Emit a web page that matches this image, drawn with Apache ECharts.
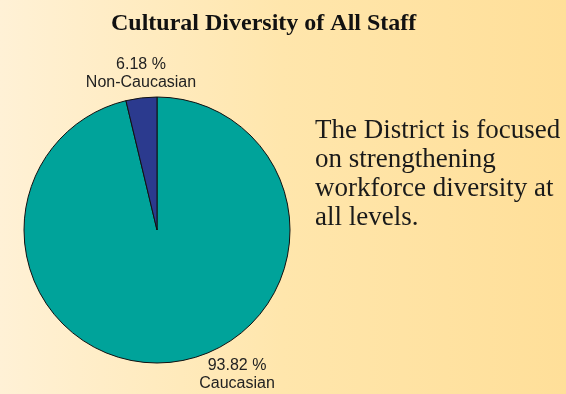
<!DOCTYPE html>
<html><head><meta charset="utf-8">
<script src="https://cdn.jsdelivr.net/npm/echarts@6/dist/echarts.min.js"></script>
<style>html,body{margin:0;padding:0;}#c{width:566px;height:394px;}</style>
</head><body><div id="c"></div>
<script>
const categories = ['Caucasian', 'Non-Caucasian'];
// percentages as printed on the reference labels
const printedPercents = [93.82, 6.18];
// slice shares as drawn in the reference picture (the drawn navy wedge spans ~13.5 degrees)
const drawnShares = [96.25, 3.75];
const sliceColors = ['#00A39A', '#2B3A8E'];
const titleText = 'Cultural Diversity of All Staff';
const noteLines = ['The District is focused', 'on strengthening', 'workforce diversity at', 'all levels.'];

const chart = echarts.init(document.getElementById('c'));
chart.setOption({
  backgroundColor: new echarts.graphic.LinearGradient(0, 0, 1, 0, [
    {offset: 0, color: '#FFF1D6'},
    {offset: 0.5, color: '#FFE6AC'},
    {offset: 1, color: '#FFDF99'}
  ]),
  title: {
    text: titleText, left: 106, top: 7,
    textStyle: {fontFamily: 'Liberation Serif', fontWeight: 'bold', fontSize: 24, color: '#111'}
  },
  graphic: [{
    type: 'text', left: 315, top: 116,
    style: {text: noteLines.join('\n'), font: '27px "Liberation Serif"', lineHeight: 29, fill: '#1a1a1a'}
  }],
  series: [{
    type: 'pie',
    center: [157, 230],
    radius: 133,
    startAngle: 90,
    clockwise: true,
    animation: false,
    silent: true,
    data: categories.map((n, i) => ({name: n, value: drawnShares[i], itemStyle: {color: sliceColors[i]}})),
    itemStyle: {borderColor: '#111', borderWidth: 1},
    label: {
      show: true, position: 'outside', overflow: 'none',
      formatter: p => printedPercents[p.dataIndex].toFixed(2) + ' %\n' + p.name,
      fontFamily: 'Liberation Sans', fontSize: 16, lineHeight: 18, color: '#222', align: 'center'
    },
    labelLine: {show: false},
    labelLayout: p => p.dataIndex === 1
      ? {x: 141, y: 74, align: 'center', verticalAlign: 'middle'}
      : {x: 237, y: 375, align: 'center', verticalAlign: 'middle'}
  }]
});
</script></body></html>
